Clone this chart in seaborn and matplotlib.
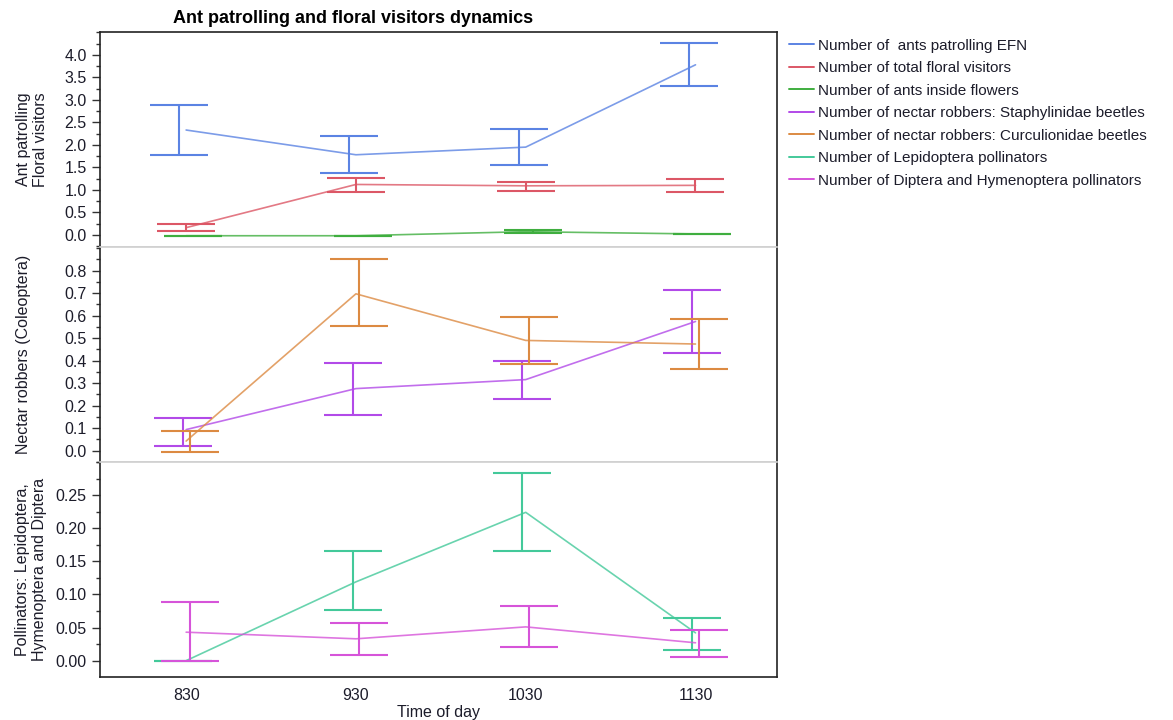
import numpy as np
import pandas as pd
import matplotlib.pyplot as plt
import seaborn as sns
from matplotlib.lines import Line2D
from matplotlib.ticker import MultipleLocator

# ---------------- data ----------------
times = ['830', '930', '1030', '1130']

ants_efn = [2.33, 1.78, 1.95, 3.78]
ants_efn_lo = [1.78, 1.37, 1.56, 3.31]
ants_efn_hi = [2.88, 2.20, 2.36, 4.26]

floral = [0.16, 1.12, 1.09, 1.10]
floral_lo = [0.09, 0.95, 0.98, 0.95]
floral_hi = [0.24, 1.27, 1.18, 1.24]

ants_flowers = [-0.02, -0.02, 0.07, 0.02]
ants_flowers_lo = [-0.02, -0.02, 0.04, 0.015]
ants_flowers_hi = [-0.02, -0.02, 0.10, 0.025]

staph = [0.094, 0.276, 0.316, 0.574]
staph_lo = [0.023, 0.160, 0.232, 0.432]
staph_hi = [0.147, 0.390, 0.397, 0.713]

curcu = [0.043, 0.697, 0.490, 0.474]
curcu_lo = [-0.005, 0.552, 0.387, 0.363]
curcu_hi = [0.087, 0.850, 0.593, 0.587]

lepi = [0.0, 0.119, 0.224, 0.042]
lepi_lo = [0.0, 0.077, 0.165, 0.016]
lepi_hi = [0.0, 0.165, 0.283, 0.065]

dipt = [0.043, 0.033, 0.051, 0.027]
dipt_lo = [0.0, 0.008, 0.020, 0.006]
dipt_hi = [0.089, 0.057, 0.083, 0.047]

names = ['Number of  ants patrolling EFN',
         'Number of total floral visitors',
         'Number of ants inside flowers',
         'Number of nectar robbers: Staphylinidae beetles',
         'Number of nectar robbers: Curculionidae beetles',
         'Number of Lepidoptera pollinators',
         'Number of Diptera and Hymenoptera pollinators']
colors = ['#5b83e3', '#dc5766', '#3fae3f', '#b24ae8', '#dc8a42', '#43c99a', '#d654d9']

series = [(ants_efn, ants_efn_lo, ants_efn_hi),
          (floral, floral_lo, floral_hi),
          (ants_flowers, ants_flowers_lo, ants_flowers_hi),
          (staph, staph_lo, staph_hi),
          (curcu, curcu_lo, curcu_hi),
          (lepi, lepi_lo, lepi_hi),
          (dipt, dipt_lo, dipt_hi)]

# which panel each series goes to and its small horizontal dodge
panel_of = [0, 0, 0, 1, 1, 2, 2]
dodge = [-0.04, 0.0, 0.04, -0.02, 0.02, -0.02, 0.02]

sns.set_style('ticks')
plt.rcParams['font.family'] = ['Liberation Sans', 'DejaVu Sans']
txt = '#1c1c2a'
fs = 11.5

fig, axes = plt.subplots(3, 1, figsize=(11.73, 7.2), dpi=100, sharex=True)
fig.subplots_adjust(left=0.0853, right=0.6624, top=0.9556, bottom=0.0597, hspace=0)

x = np.arange(len(times))
for i, (m, lo, hi) in enumerate(series):
    ax = axes[panel_of[i]]
    df = pd.DataFrame({'x': x, 'y': m})
    sns.lineplot(data=df, x='x', y='y', ax=ax, color=colors[i], lw=1.2, alpha=0.8)
    m = np.array(m)
    err = [m - np.array(lo), np.array(hi) - m]
    ax.errorbar(x + dodge[i], m, yerr=err, fmt='none', ecolor=colors[i],
                elinewidth=1.5, capsize=21, capthick=1.5)

ylims = [(-0.27, 4.51), (-0.05, 0.905), (-0.0247, 0.30)]
ytop = [4.0, 0.8, 0.25]
majors = [0.5, 0.1, 0.05]
fmts = ['{:.1f}', '{:.1f}', '{:.2f}']
ylabels = ['Ant patrolling\nFloral visitors',
           'Nectar robbers (Coleoptera)',
           'Pollinators: Lepidoptera,\nHymenoptera and Diptera']
for k, ax in enumerate(axes):
    ax.set_ylim(*ylims[k])
    ax.set_xlim(-0.507, 3.48)
    ax.yaxis.set_minor_locator(MultipleLocator(majors[k] / 2))
    ticks = np.arange(0, ytop[k] + majors[k] / 2, majors[k])
    ax.set_yticks(ticks)
    ax.set_yticklabels([fmts[k].format(t) for t in ticks])
    ax.tick_params(axis='y', which='major', length=6, width=1, labelsize=fs, colors='#333', labelcolor=txt)
    ax.tick_params(axis='y', which='minor', length=3, width=1, colors='#333')
    ax.set_ylabel(ylabels[k], fontsize=fs, color=txt)
    ax.set_xlabel('')
    for s in ['left', 'right', 'top', 'bottom']:
        ax.spines[s].set_visible(True)
        ax.spines[s].set_color('#222')
        ax.spines[s].set_linewidth(1.2)
    if k > 0:
        ax.spines['top'].set_color('#d0d0d0')
    if k < 2:
        ax.spines['bottom'].set_color('#d0d0d0')
        ax.tick_params(axis='x', which='both', length=0)

axes[0].yaxis.set_label_coords(-0.077, 0.5)
axes[1].yaxis.set_label_coords(-0.102, 0.5)
axes[2].yaxis.set_label_coords(-0.078, 0.5)

axes[2].set_xticks(x)
axes[2].set_xticklabels(times)
axes[2].tick_params(axis='x', length=0, labelsize=fs, labelcolor=txt, pad=8)
axes[2].set_xlabel('Time of day', fontsize=fs, color=txt, labelpad=1)

fig.text(0.1475, 0.974, 'Ant patrolling and floral visitors dynamics',
         fontsize=13, fontweight='bold', color='black', ha='left', va='center')

handles = [Line2D([0], [0], color=c, lw=1.4) for c in colors]
fig.legend(handles, names, loc='upper left', bbox_to_anchor=(0.667, 0.955),
           frameon=False, fontsize=11, handlelength=1.7, handletextpad=0.25,
           labelspacing=0.56, borderaxespad=0, labelcolor=txt)

plt.savefig('out.png', dpi=100)
